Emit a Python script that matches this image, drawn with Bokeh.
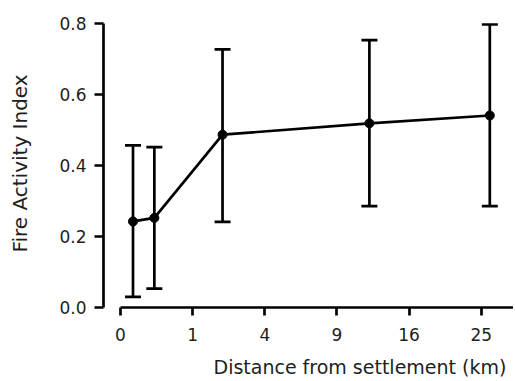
import numpy as np
from bokeh.plotting import figure
from bokeh.models import (ColumnDataSource, Whisker, TeeHead, FixedTicker,
                          PrintfTickFormatter, Range1d, Title)
from bokeh.embed import file_html
from bokeh.resources import INLINE

# ---- data ----
distance_km = [0.03, 0.22, 2.0, 11.9, 26.2]
fire_index = [0.242, 0.252, 0.486, 0.518, 0.540]
upper = [0.456, 0.451, 0.726, 0.752, 0.796]
lower = [0.030, 0.053, 0.241, 0.285, 0.285]
x_tick_values = [0, 1, 4, 9, 16, 25]
x_tick_labels = ["0", "1", "4", "9", "16", "25"]
y_ticks = [0.0, 0.2, 0.4, 0.6, 0.8]

FONT = "DejaVu Sans"
TXT = "#1e1e1e"

# square-root x scale
xs = [float(np.sqrt(d)) for d in distance_km]
src = ColumnDataSource(dict(x=xs, y=fire_index, upper=upper, lower=lower))

p = figure(frame_width=410, frame_height=288, output_backend="svg",
           toolbar_location=None, min_border_left=103, min_border_top=19,
           min_border_right=0, min_border_bottom=73,
           x_range=Range1d(-0.2357, 5.447), y_range=Range1d(0, 0.81))
p.outline_line_color = None
p.grid.visible = False
p.background_fill_color = "white"
p.border_fill_color = "white"

LW = 2.7
# error bars
w = Whisker(source=src, base="x", upper="upper", lower="lower",
            line_width=LW, line_color="black",
            upper_head=TeeHead(size=16, line_width=LW, line_color="black"),
            lower_head=TeeHead(size=16, line_width=LW, line_color="black"))
p.add_layout(w)

p.line("x", "y", source=src, line_width=LW, line_color="black")
p.scatter("x", "y", source=src, size=9, color="black")

# x axis (sqrt scale ticks)
xa = p.xaxis[0]
xa.ticker = FixedTicker(ticks=[float(np.sqrt(v)) for v in x_tick_values])
xa.major_label_overrides = {float(np.sqrt(v)): lab for v, lab in zip(x_tick_values, x_tick_labels)}
xa.bounds = (0, 5.447)
xa.axis_line_width = LW
xa.major_tick_line_width = LW
xa.major_tick_out = 8
xa.major_tick_in = 0
xa.minor_tick_line_color = None
xa.major_label_standoff = 12
xa.major_label_text_font = FONT
xa.major_label_text_font_size = "17px"
xa.major_label_text_color = TXT

# y axis
ya = p.yaxis[0]
ya.ticker = FixedTicker(ticks=y_ticks)
ya.formatter = PrintfTickFormatter(format="%.1f")
ya.bounds = (0, 0.8)
ya.axis_line_width = LW
ya.major_tick_line_width = LW
ya.major_tick_out = 9
ya.major_tick_in = 0
ya.minor_tick_line_color = None
ya.major_label_standoff = 8
ya.major_label_text_font = FONT
ya.major_label_text_font_size = "17px"
ya.major_label_text_color = TXT
ya.axis_label = "Fire Activity Index"
ya.axis_label_text_font = FONT
ya.axis_label_text_font_size = "20px"
ya.axis_label_text_font_style = "normal"
ya.axis_label_text_color = TXT
ya.axis_label_standoff = 24

xt = Title(text="Distance from settlement (km)", align="left", offset=110,
           text_font=FONT, text_font_size="19px", text_font_style="normal",
           text_color=TXT, standoff=20)
p.add_layout(xt, "below")

open("out.html", "w").write(file_html(p, INLINE))
